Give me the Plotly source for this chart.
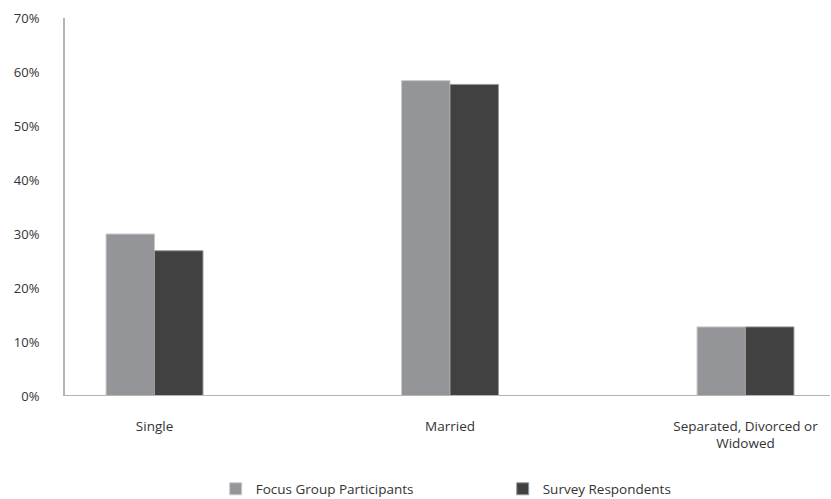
import plotly.graph_objects as go

# Marital status breakdown (percent)
categories = ["Single", "Married", "Separated, Divorced or<br>Widowed"]
focus_group = [30.0, 58.4, 12.8]
survey = [26.9, 57.7, 12.8]
y_ticks = [0, 10, 20, 30, 40, 50, 60, 70]
y_tick_text = [f"{v}%" for v in y_ticks]

FONT = "Open Sans, DejaVu Sans, sans-serif"
TEXT = "#333333"
AXIS = "#b4b4b4"

x_pos = list(range(len(categories)))

fig = go.Figure()
fig.add_trace(go.Bar(
    name="Focus Group Participants",
    x=x_pos, y=focus_group,
    marker=dict(color="#939598", line=dict(color="#c9c9c9", width=1)),
))
fig.add_trace(go.Bar(
    name="Survey Respondents",
    x=x_pos, y=survey,
    marker=dict(color="#414141", line=dict(color="#9a9a9a", width=1)),
))

fig.update_layout(
    width=831, height=499,
    margin=dict(l=65, r=1, t=18, b=103, autoexpand=False),
    paper_bgcolor="white", plot_bgcolor="white",
    barmode="group", bargap=0.672, bargroupgap=0,
    font=dict(family=FONT, size=13, color=TEXT),
    showlegend=True,
    legend=dict(
        orientation="h", x=0.197, xanchor="left",
        yref="container", y=0.02, yanchor="middle",
        entrywidth=242, entrywidthmode="pixels",
        font=dict(family=FONT, size=13.5, color=TEXT),
        traceorder="normal", bgcolor="rgba(0,0,0,0)",
    ),
    xaxis=dict(
        type="linear", range=[-0.303, 2.286],
        tickmode="array", tickvals=x_pos, ticktext=categories,
        showgrid=False, zeroline=False, showline=False, automargin=False,
        ticks="", ticklabelstandoff=20,
        tickfont=dict(family=FONT, size=13.5, color=TEXT),
    ),
    yaxis=dict(
        range=[0, 70], tickmode="array", tickvals=y_ticks, ticktext=y_tick_text,
        showgrid=False, zeroline=False, automargin=False,
        showline=True, linecolor=AXIS, linewidth=2,
        ticks="", ticklabelstandoff=21,
        tickfont=dict(family=FONT, size=13, color=TEXT),
    ),
)

# Baseline along 0%
fig.add_shape(type="line", xref="paper", yref="y", x0=0, x1=1, y0=0, y1=0,
              line=dict(color=AXIS, width=2))

fig.write_html("out.html")
